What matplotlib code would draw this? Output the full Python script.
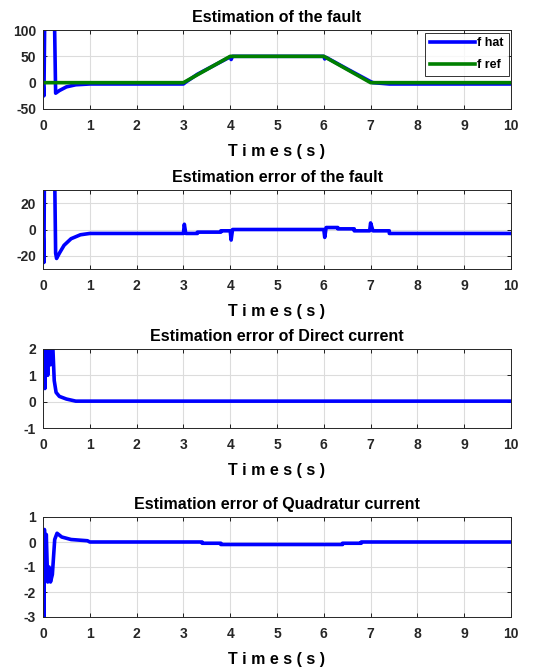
import matplotlib
matplotlib.use("Agg")
import matplotlib.pyplot as plt

plt.rcParams["font.family"] = ["Liberation Sans", "DejaVu Sans"]
plt.rcParams["font.weight"] = "bold"
plt.rcParams["axes.unicode_minus"] = False

# ---- data ------------------------------------------------------------
t_ref = [0, 3, 4, 6, 7, 10]
f_ref = [0, 0, 50, 50, 0, 0]

t_hat = [0, 0.02, 0.04, 0.24, 0.27, 0.35, 0.5, 0.7, 0.9, 1.0, 3.0, 3.05,
         3.3, 4.0, 4.02, 4.05, 6.0, 6.02, 6.05, 6.5, 7.0, 7.05, 7.4, 10]
f_hat = [0, -25, 150, 150, -20, -15, -8, -4, -3, -2.5, -2.5, 1,
         16, 49, 44, 50, 50, 45, 48, 26, 2, 0, -2.5, -2.5]

t_err = [0, 0.02, 0.03, 0.25, 0.27, 0.29, 0.35, 0.45, 0.6, 0.8, 1.0,
         3.0, 3.02, 3.05, 3.3, 3.3, 3.8, 3.8, 4.0, 4.02, 4.05,
         6.0, 6.02, 6.05, 6.3, 6.3, 6.65, 6.65, 6.98, 7.0, 7.05,
         7.4, 7.4, 10]
f_err = [0, -25, 40, 40, -18, -22, -18, -12, -7, -4, -3,
         -3, 4, -3, -3, -2, -2, -1, -1, -8, 0,
         0, -6, 1.5, 1.5, 0.5, 0.5, -1, -1, 5, -1,
         -1, -3, -3]

t_id = [0, 0.02, 0.04, 0.07, 0.1, 0.13, 0.16, 0.2, 0.24, 0.28, 0.35,
        0.5, 0.7, 10]
e_id = [1.5, 2.5, 0.5, 2.5, 1.0, 2.5, 1.4, 2.5, 0.8, 0.35, 0.2,
        0.1, 0.02, 0.02]

t_iq = [0, 0.02, 0.03, 0.05, 0.07, 0.1, 0.13, 0.16, 0.2, 0.25, 0.3,
        0.4, 0.6, 0.95, 1.0, 3.4, 3.4, 3.8, 3.8, 6.4, 6.4, 6.8, 6.8, 10]
e_iq = [-0.5, -3, 0.5, -1.5, 0.3, -1.6, -1.0, -1.6, -1.3, 0.1, 0.35,
        0.2, 0.1, 0.05, 0, 0, -0.05, -0.05, -0.1, -0.1, -0.05, -0.05, 0, 0]

BLUE = "#0000ff"
GREEN = "#008000"
LW = 2.6


def style(ax, title, ylim, yticks):
    ax.set_xlim(0, 10)
    ax.set_ylim(*ylim)
    ax.set_xticks(range(11))
    ax.set_yticks(yticks)
    ax.grid(True, color="#dcdcdc", linewidth=0.8)
    ax.set_axisbelow(True)
    ax.tick_params(direction="in", top=True, right=True, labelsize=10,
                   length=3, width=0.6)
    ax.tick_params(axis="x", pad=7)
    ax.tick_params(axis="y", pad=5)
    for lab in ax.get_xticklabels() + ax.get_yticklabels():
        lab.set_fontweight("bold")
        lab.set_color("#262626")
    for s in ax.spines.values():
        s.set_linewidth(0.7)
        s.set_color("#262626")
    ax.set_title(title, fontsize=11.5, fontweight="bold", pad=6)
    ax.set_xlabel("T i m e s ( s )", fontsize=11.5, fontweight="bold",
                  labelpad=8)


fig = plt.figure(figsize=(5.46, 6.71), dpi=100)
L, W = 43 / 546, 468 / 546
ax1 = fig.add_axes([L, 1 - 109 / 671, W, 79 / 671])
ax2 = fig.add_axes([L, 1 - 269 / 671, W, 79 / 671])
ax3 = fig.add_axes([L, 1 - 428 / 671, W, 79 / 671])
ax4 = fig.add_axes([L, 1 - 617 / 671, W, 100 / 671])

ax1.plot(t_hat, f_hat, color=BLUE, lw=LW, label="f hat")
ax1.plot(t_ref, f_ref, color=GREEN, lw=LW, label="f ref")
style(ax1, "Estimation of the fault", (-50, 100), [-50, 0, 50, 100])
leg = ax1.legend(loc="upper right", fontsize=9, frameon=True,
                 fancybox=False, edgecolor="black", handlelength=3.6,
                 borderpad=0.4, labelspacing=0.75, handletextpad=0.15,
                 borderaxespad=0.2)
leg.get_frame().set_linewidth(0.7)
for txt in leg.get_texts():
    txt.set_fontweight("bold")

ax2.plot(t_err, f_err, color=BLUE, lw=LW)
style(ax2, "Estimation error of the fault", (-30, 30), [-20, 0, 20])

ax3.plot(t_id, e_id, color=BLUE, lw=LW)
style(ax3, "Estimation error of Direct current", (-1, 2), [-1, 0, 1, 2])

ax4.plot(t_iq, e_iq, color=BLUE, lw=LW)
style(ax4, "Estimation error of Quadratur current", (-3, 1),
      [-3, -2, -1, 0, 1])

fig.savefig("out.png", dpi=100)
